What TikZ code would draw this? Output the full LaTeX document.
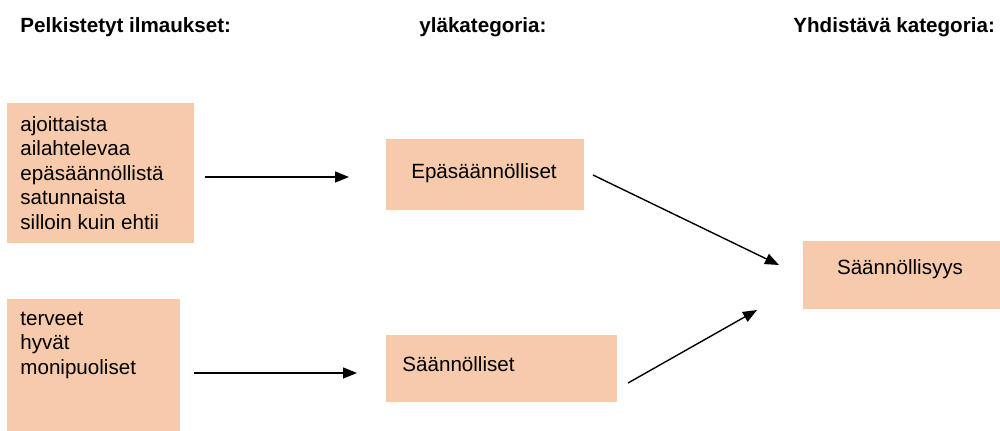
\documentclass[tikz,border=0pt]{standalone}
\usepackage{fontspec}
\setmainfont{Liberation Sans}
\usetikzlibrary{arrows.meta}
\definecolor{peach}{RGB}{246,202,170}
\begin{document}
\begin{tikzpicture}[x=0.5pt,y=-0.5pt,
  box/.style={fill=peach, draw=none, inner sep=0pt},
  txt/.style={inner sep=0pt, font=\fontsize{10.3}{12.25}\selectfont, align=left},
  head/.style={inner sep=0pt, font=\fontsize{10.3}{12.25}\selectfont\bfseries, anchor=west},
  conn/.style={-{Triangle[length=7pt,width=5.5pt]}, line width=0.7pt}]
\useasboundingbox (0,0) rectangle (1000,430);
% headers
\node[head] (h1) at (20,27) {Pelkistetyt ilmaukset:};
\node[head] (h2) at (419,27) {yläkategoria:};
\node[head] (h3) at (793,27) {Yhdistävä kategoria:};
% boxes
\node[box, minimum width=93.5pt, minimum height=70pt] (b1) at (100.5,173) {};
\node[txt, anchor=west] (t1) at (20,173) {ajoittaista\\ailahtelevaa\\epäsäännöllistä\\satunnaista\\silloin kuin ehtii};
\node[box, minimum width=86.5pt, minimum height=67pt] (b2) at (93.5,366) {};
\node[txt, anchor=west] (t2) at (20,345) {terveet\\hyvät\\monipuoliset};
\node[box, minimum width=99pt, minimum height=35.5pt] (b3) at (485,174.5) {};
\node[txt] (t3) at (484,173) {Epäsäännölliset};
\node[box, minimum width=115.5pt, minimum height=33.5pt] (b4) at (501.5,368.5) {};
\node[txt, anchor=west] (t4) at (402,364) {Säännölliset};
\node[box, minimum width=99.5pt, minimum height=34pt] (b5) at (902.5,275) {};
\node[txt] (t5) at (900,269) {Säännöllisyys};
% connector ends
\coordinate (a1s) at (205,177);
\coordinate (a1e) at (349,177);
\coordinate (a2s) at (194,373);
\coordinate (a2e) at (357,373);
\coordinate (a3s) at (593,175);
\coordinate (a3e) at (779,265);
\coordinate (a4s) at (628,383);
\coordinate (a4e) at (757,310);
\draw[conn] (a1s) -- (a1e);
\draw[conn] (a2s) -- (a2e);
\draw[conn] (a3s) -- (a3e);
\draw[conn] (a4s) -- (a4e);
\end{tikzpicture}
\end{document}
